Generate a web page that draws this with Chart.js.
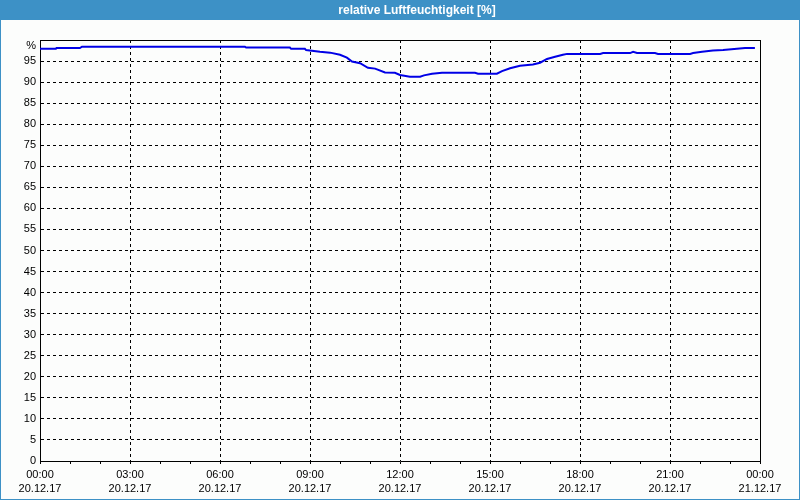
<!DOCTYPE html>
<html>
<head>
<meta charset="utf-8">
<script src="https://cdn.jsdelivr.net/npm/chart.js@4/dist/chart.umd.min.js"></script>
<style>
  html, body { margin: 0; padding: 0; background: #fcfdfc; }
  canvas { display: block; }
</style>
</head>
<body>
<canvas id="c" width="800" height="500"></canvas>
<script>
// Hours since 20.12.17 00:00
const hours = [0, 0.53, 0.55, 1.33, 1.4, 6.83, 6.87, 8.33, 8.37, 8.83, 8.87, 9.33, 9.67, 10.0, 10.23, 10.4, 10.67, 10.93, 11.17, 11.5, 11.83, 12.0, 12.33, 12.67, 12.8, 13.07, 13.4, 14.5, 14.6, 15.23, 15.4, 15.67, 16.0, 16.43, 16.67, 16.9, 17.17, 17.43, 17.57, 18.67, 18.77, 19.67, 19.77, 19.9, 20.5, 20.6, 21.67, 21.77, 22.07, 22.43, 22.77, 23.23, 23.5, 23.83];
const humidity = [97.9, 97.9, 98.1, 98.1, 98.4, 98.4, 98.2, 98.2, 97.9, 97.9, 97.6, 97.2, 97.0, 96.5, 95.8, 94.9, 94.5, 93.4, 93.2, 92.3, 92.2, 91.7, 91.3, 91.3, 91.6, 92.0, 92.2, 92.2, 92.0, 92.0, 92.6, 93.3, 93.9, 94.2, 94.6, 95.5, 96.0, 96.5, 96.7, 96.7, 96.9, 96.9, 97.2, 96.9, 96.9, 96.7, 96.7, 96.9, 97.2, 97.5, 97.6, 97.9, 98.1, 98.1];
const timeLabels = ["00:00", "03:00", "06:00", "09:00", "12:00", "15:00", "18:00", "21:00", "00:00"];
const dateLabels = ["20.12.17", "20.12.17", "20.12.17", "20.12.17", "20.12.17", "20.12.17", "20.12.17", "20.12.17", "21.12.17"];
const titleText = "relative Luftfeuchtigkeit [%]";
const yUnitLabel = "%";

const points = hours.map((h, i) => ({x: h, y: humidity[i]}));

const framePlugin = {
  id: 'frame',
  beforeDraw(chart) {
    const ctx = chart.ctx;
    ctx.save();
    ctx.fillStyle = '#fcfdfc';
    ctx.fillRect(0, 0, 800, 500);
    ctx.fillStyle = '#3d91c6';
    ctx.fillRect(0, 0, 800, 20);
    ctx.fillRect(0, 0, 1, 500);
    ctx.fillRect(799, 0, 1, 500);
    ctx.fillRect(0, 499, 800, 1);
    ctx.fillStyle = '#ffffff';
    ctx.font = 'bold 12px "Liberation Sans", Arial, sans-serif';
    ctx.textAlign = 'center';
    ctx.textBaseline = 'alphabetic';
    ctx.fillText(titleText, 417, 14);
    ctx.restore();
  },
  beforeDatasetsDraw(chart) {
    const a = chart.chartArea;
    const ctx = chart.ctx;
    ctx.save();
    ctx.strokeStyle = '#000';
    ctx.lineWidth = 1;
    ctx.beginPath();
    ctx.moveTo(Math.round(a.left) + 0.5, Math.round(a.top) + 0.5);
    ctx.lineTo(Math.round(a.right) + 0.5, Math.round(a.top) + 0.5);
    ctx.lineTo(Math.round(a.right) + 0.5, Math.round(a.bottom) + 0.5);
    ctx.stroke();
    ctx.restore();
  }
};

Chart.defaults.color = '#000';
Chart.defaults.font.family = '"Liberation Sans", Arial, sans-serif';
Chart.defaults.font.size = 11;

new Chart(document.getElementById('c'), {
  type: 'line',
  data: {
    datasets: [{
      data: points,
      borderColor: '#0000e6',
      borderWidth: 2,
      pointRadius: 0,
      tension: 0,
      fill: false
    }]
  },
  options: {
    responsive: false,
    animation: false,
    devicePixelRatio: 1,
    layout: { padding: { top: 40, right: 40, left: 0, bottom: 0 } },
    plugins: { legend: { display: false }, tooltip: { enabled: false }, title: { display: false } },
    scales: {
      x: {
        type: 'linear',
        min: 0,
        max: 24,
        afterFit(s) { s.height = 39; },
        afterBuildTicks(s) {
          const t = [];
          for (let i = 0; i <= 24; i++) t.push({value: i});
          s.ticks = t;
        },
        ticks: {
          autoSkip: false,
          maxRotation: 0,
          padding: 3,
          font: { size: 11, lineHeight: 1.36 },
          callback(v) {
            if (v % 3 !== 0) return '';
            const k = v / 3;
            return [timeLabels[k], dateLabels[k]];
          }
        },
        grid: {
          color: (ctx) => (ctx.tick && ctx.tick.value % 3 === 0) ? '#000' : 'rgba(0,0,0,0)',
          tickColor: '#000',
          tickLength: 3,
          lineWidth: 1
        },
        border: { display: true, color: '#000', width: 1, dash: [3, 3] }
      },
      y: {
        min: 0,
        max: 100,
        afterFit(s) { s.width = 40; },
        ticks: {
          stepSize: 5,
          autoSkip: false,
          padding: 4,
          font: { size: 11, lineHeight: 1.0 },
          callback(v) { return v === 100 ? ['', yUnitLabel] : String(v); }
        },
        grid: { color: '#000', drawTicks: false, lineWidth: 1 },
        border: { display: true, color: '#000', width: 1, dash: [3, 3] }
      }
    }
  },
  plugins: [framePlugin]
});
</script>
</body>
</html>
